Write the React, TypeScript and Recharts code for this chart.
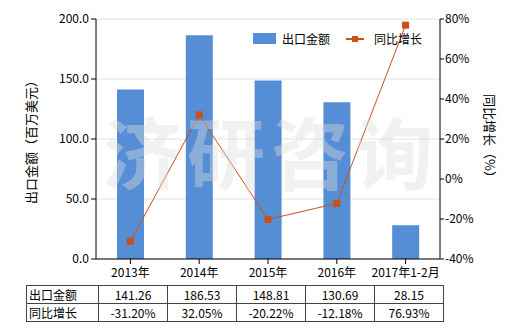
import React from "react";
import { ComposedChart, Bar, Line, XAxis, YAxis, CartesianGrid } from "recharts";

const categories = ["2013年", "2014年", "2015年", "2016年", "2017年1-2月"];
const exportValues = [141.26, 186.53, 148.81, 130.69, 28.15];
const growthValues = [-31.2, 32.05, -20.22, -12.18, 76.93];
const exportLabels = ["141.26", "186.53", "148.81", "130.69", "28.15"];
const growthLabels = ["-31.20%", "32.05%", "-20.22%", "-12.18%", "76.93%"];
const leftTicks = [0, 50, 100, 150, 200];
const rightTicks = [-40, -20, 0, 20, 40, 60, 80];

const BAR = "#558ed5";
const LINE = "#c8501a";
const FONT = "'Noto Sans CJK SC', 'Noto Sans', sans-serif";

const data = categories.map((name, i) => ({
  name,
  value: exportValues[i],
  growth: growthValues[i],
}));

const Square = (props: any) => {
  const { cx, cy } = props;
  if (cx == null || cy == null) return null;
  return <rect x={cx - 3.5} y={cy - 3.5} width={7} height={7} fill={LINE} />;
};

export default function App() {
  const cell: React.CSSProperties = {
    border: "1px solid #444",
    height: 17,
    padding: 0,
    textAlign: "center",
    width: 68,
  };
  const head: React.CSSProperties = { ...cell, textAlign: "left", width: 69, paddingLeft: 2 };
  return (
    <div
      style={{
        position: "absolute",
        left: 0,
        top: 0,
        width: 520,
        height: 330,
        background: "#fff",
        fontFamily: FONT,
        fontSize: 12,
        color: "#000",
      }}
    >
      <ComposedChart width={520} height={330} data={data} margin={{ top: 19, right: 0, left: 0, bottom: 0 }}>
        <CartesianGrid vertical={false} stroke="#e2e2e2" yAxisId="left" />
        <XAxis
          dataKey="name"
          height={71}
          stroke="#000"
          tickSize={5}
          tick={{ fill: "#000", fontSize: 12, fontFamily: FONT }}
          tickMargin={4}
        />
        <YAxis
          yAxisId="left"
          domain={[0, 200]}
          ticks={leftTicks}
          width={96}
          stroke="#000"
          tickSize={5}
          tickFormatter={(v: number) => v.toFixed(1)}
          tick={{ fill: "#000", fontSize: 12, fontFamily: FONT }}
        />
        <YAxis
          yAxisId="right"
          orientation="right"
          domain={[-40, 80]}
          ticks={rightTicks}
          width={80}
          stroke="#000"
          tickSize={4}
          tickMargin={1}
          tickFormatter={(v: number) => `${v}%`}
          tick={{ fill: "#000", fontSize: 12, fontFamily: FONT }}
        />
        <Bar yAxisId="left" dataKey="value" fill={BAR} barSize={27} isAnimationActive={false} />
        <Line
          yAxisId="right"
          dataKey="growth"
          stroke={LINE}
          strokeWidth={1}
          dot={<Square />}
          activeDot={false}
          isAnimationActive={false}
        />
      </ComposedChart>

      {/* watermark */}
      <div
        style={{
          position: "absolute",
          left: 96,
          top: 100,
          width: 350,
          textAlign: "center",
          fontSize: 78,
          fontWeight: 700,
          letterSpacing: 6,
          color: "rgba(221,221,221,0.4)",
          pointerEvents: "none",
          lineHeight: "100px",
        }}
      >
        济研咨询
      </div>

      {/* legend */}
      <div style={{ position: "absolute", left: 253, top: 30, display: "flex", alignItems: "center", height: 16 }}>
        <span style={{ width: 23, height: 11, background: BAR, display: "inline-block" }} />
        <span style={{ marginLeft: 6 }}>出口金额</span>
        <span style={{ position: "relative", width: 18, height: 11, marginLeft: 16, display: "inline-block" }}>
          <span style={{ position: "absolute", left: 0, top: 5, width: 18, height: 2, background: LINE }} />
          <span style={{ position: "absolute", left: 6, top: 3, width: 6, height: 6, background: LINE }} />
        </span>
        <span style={{ marginLeft: 10 }}>同比增长</span>
      </div>

      {/* axis titles */}
      <div
        style={{
          position: "absolute",
          left: 30,
          top: 139,
          transform: "translate(-50%, -50%) rotate(-90deg)",
          whiteSpace: "nowrap",
          fontSize: 13,
        }}
      >
        出口金额（百万美元）
      </div>
      <div
        style={{
          position: "absolute",
          left: 490,
          top: 139,
          transform: "translate(-50%, -50%) rotate(90deg)",
          whiteSpace: "nowrap",
          fontSize: 13,
        }}
      >
        同比增长（%）
      </div>

      {/* data table */}
      <table
        style={{
          position: "absolute",
          left: 26,
          top: 285,
          borderCollapse: "collapse",
          fontSize: 12,
          fontFamily: FONT,
        }}
      >
        <tbody>
          <tr>
            <td style={head}>出口金额</td>
            {exportLabels.map((t, i) => (
              <td key={i} style={cell}>{t}</td>
            ))}
          </tr>
          <tr>
            <td style={head}>同比增长</td>
            {growthLabels.map((t, i) => (
              <td key={i} style={cell}>{t}</td>
            ))}
          </tr>
        </tbody>
      </table>
    </div>
  );
}
